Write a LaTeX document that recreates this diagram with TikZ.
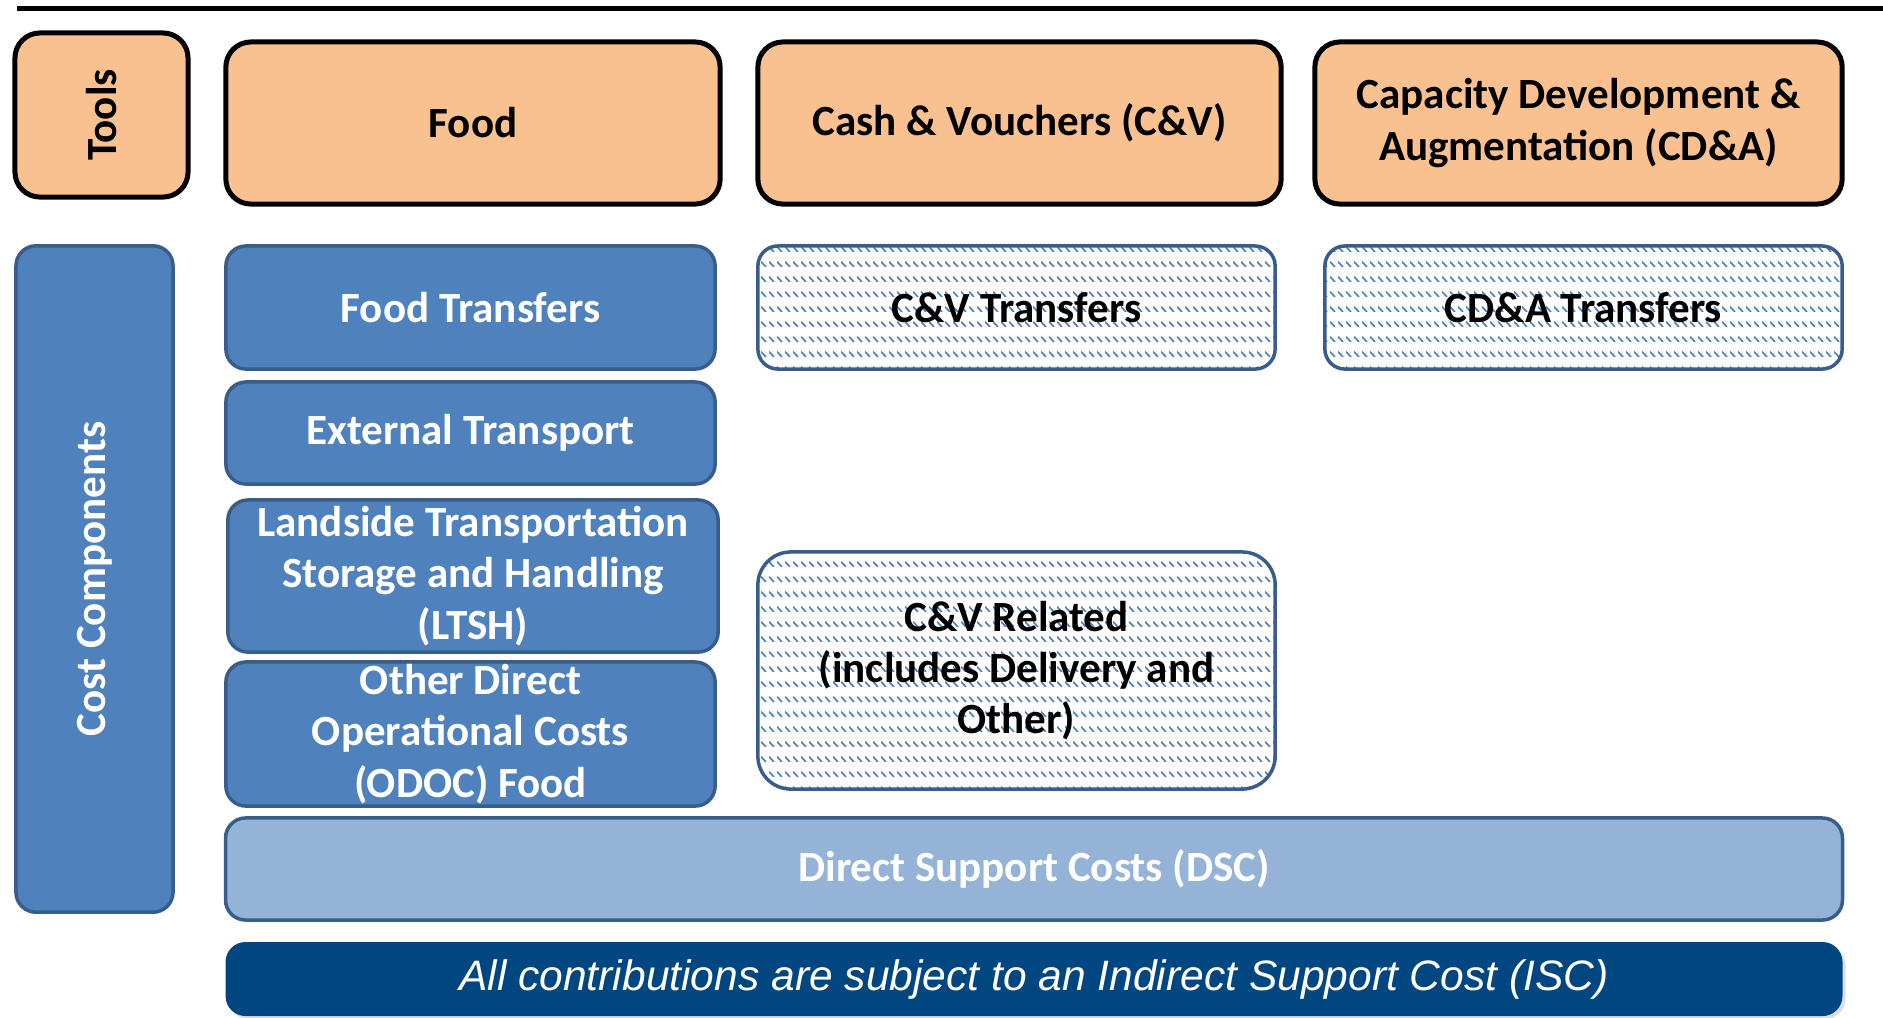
\documentclass[tikz,border=0pt]{standalone}
\usepackage{fontspec}
\setmainfont{Carlito}
\newfontfamily\arialfont{Liberation Sans}
\usetikzlibrary{patterns.meta,shadows}

\definecolor{toolorange}{RGB}{249,192,144}
\definecolor{compblue}{RGB}{79,129,189}
\definecolor{compedge}{RGB}{56,93,138}
\definecolor{dsclight}{RGB}{149,179,215}
\definecolor{iscnavy}{RGB}{0,70,128}
\definecolor{hatchblue}{RGB}{74,126,190}

% small dashed downward diagonal, as in the office fill
\tikzdeclarepattern{
  name=cvhatch,
  type=uncolored,
  bounding box={(0pt,0pt) and (2.28pt,4.27pt)},
  tile size={(2.28pt,4.27pt)},
  code={
    \draw[line width=0.5pt] (0pt,1.6pt) -- (1.6pt,0pt);
  }
}

\begin{document}
\begin{tikzpicture}[x=0.01cm,y=-0.01cm,
    every node/.style={font=\bfseries\fontsize{12.25}{14.6}\selectfont,align=center,inner sep=0pt},
    toolbox/.style={draw=black,line width=0.05cm,fill=toolorange,rounded corners=0.25cm},
    costbox/.style={draw=compedge,line width=0.035cm,fill=compblue,text=white,rounded corners=0.2cm},
    hatchbox/.style={preaction={fill=white},pattern=cvhatch,pattern color=hatchblue,
        draw=compedge,line width=0.035cm,rounded corners=0.2cm},
    dscbox/.style={draw=compedge,line width=0.035cm,fill=dsclight,text=white,rounded corners=0.2cm},
    iscbox/.style={fill=iscnavy,text=white,rounded corners=0.2cm,
        drop shadow={opacity=0.25,shadow xshift=0.03cm,shadow yshift=-0.03cm},
        font=\arialfont\itshape\fontsize{12.1}{14}\selectfont}]
    \useasboundingbox (0,0) rectangle (1883,1017);

    \draw[line width=0.05cm] (17,8) -- (1883,8);

    % tools row
    \node[toolbox,rotate=90,minimum width=1.64cm,minimum height=1.73cm] (tools) at (101.5,115) {Tools};
    \node[toolbox,minimum width=4.94cm,minimum height=1.62cm] (food) at (473,123) {Food};
    \node[toolbox,minimum width=5.23cm,minimum height=1.62cm] (cv) at (1019.5,123) {Cash \& Vouchers (C\&V)};
    \node[toolbox,minimum width=5.27cm,minimum height=1.62cm] (cda) at (1578.5,123) {Capacity Development \&\\Augmentation (CD\&A)};

    % cost components
    \node[costbox,rotate=90,minimum width=6.66cm,minimum height=1.57cm] (costs) at (94.5,579) {Cost Components};

    \node[costbox,minimum width=4.89cm,minimum height=1.23cm] (foodtr) at (470.5,307.5) {Food Transfers};
    \node[costbox,minimum width=4.89cm,minimum height=1.02cm] (ext) at (470.5,433) {External Transport};
    \node[costbox,minimum width=4.90cm,minimum height=1.52cm] (ltsh) at (473,576) {Landside Transportation\\Storage and Handling\\(LTSH)};
    \node[costbox,minimum width=4.89cm,minimum height=1.44cm] (odoc) at (470.5,734) {Other Direct\\Operational Costs\\(ODOC) Food};

    \node[hatchbox,minimum width=5.17cm,minimum height=1.23cm] (cvtr) at (1016.5,307.5) {C\&V Transfers};
    \node[hatchbox,minimum width=5.17cm,minimum height=1.23cm] (cdatr) at (1583.5,307.5) {CD\&A Transfers};
    \node[hatchbox,rounded corners=0.33cm,minimum width=5.17cm,minimum height=2.37cm] (cvrel) at (1016.5,670.5) {C\&V Related\\(includes Delivery and\\Other)};

    \node[dscbox,minimum width=16.16cm,minimum height=1.02cm] (dsc) at (1034,869) {Direct Support Costs (DSC)};
    \node[iscbox,minimum width=16.16cm,minimum height=0.74cm] (isc) at (1034,979) {All contributions are subject to an Indirect Support Cost (ISC)};
\end{tikzpicture}
\end{document}
